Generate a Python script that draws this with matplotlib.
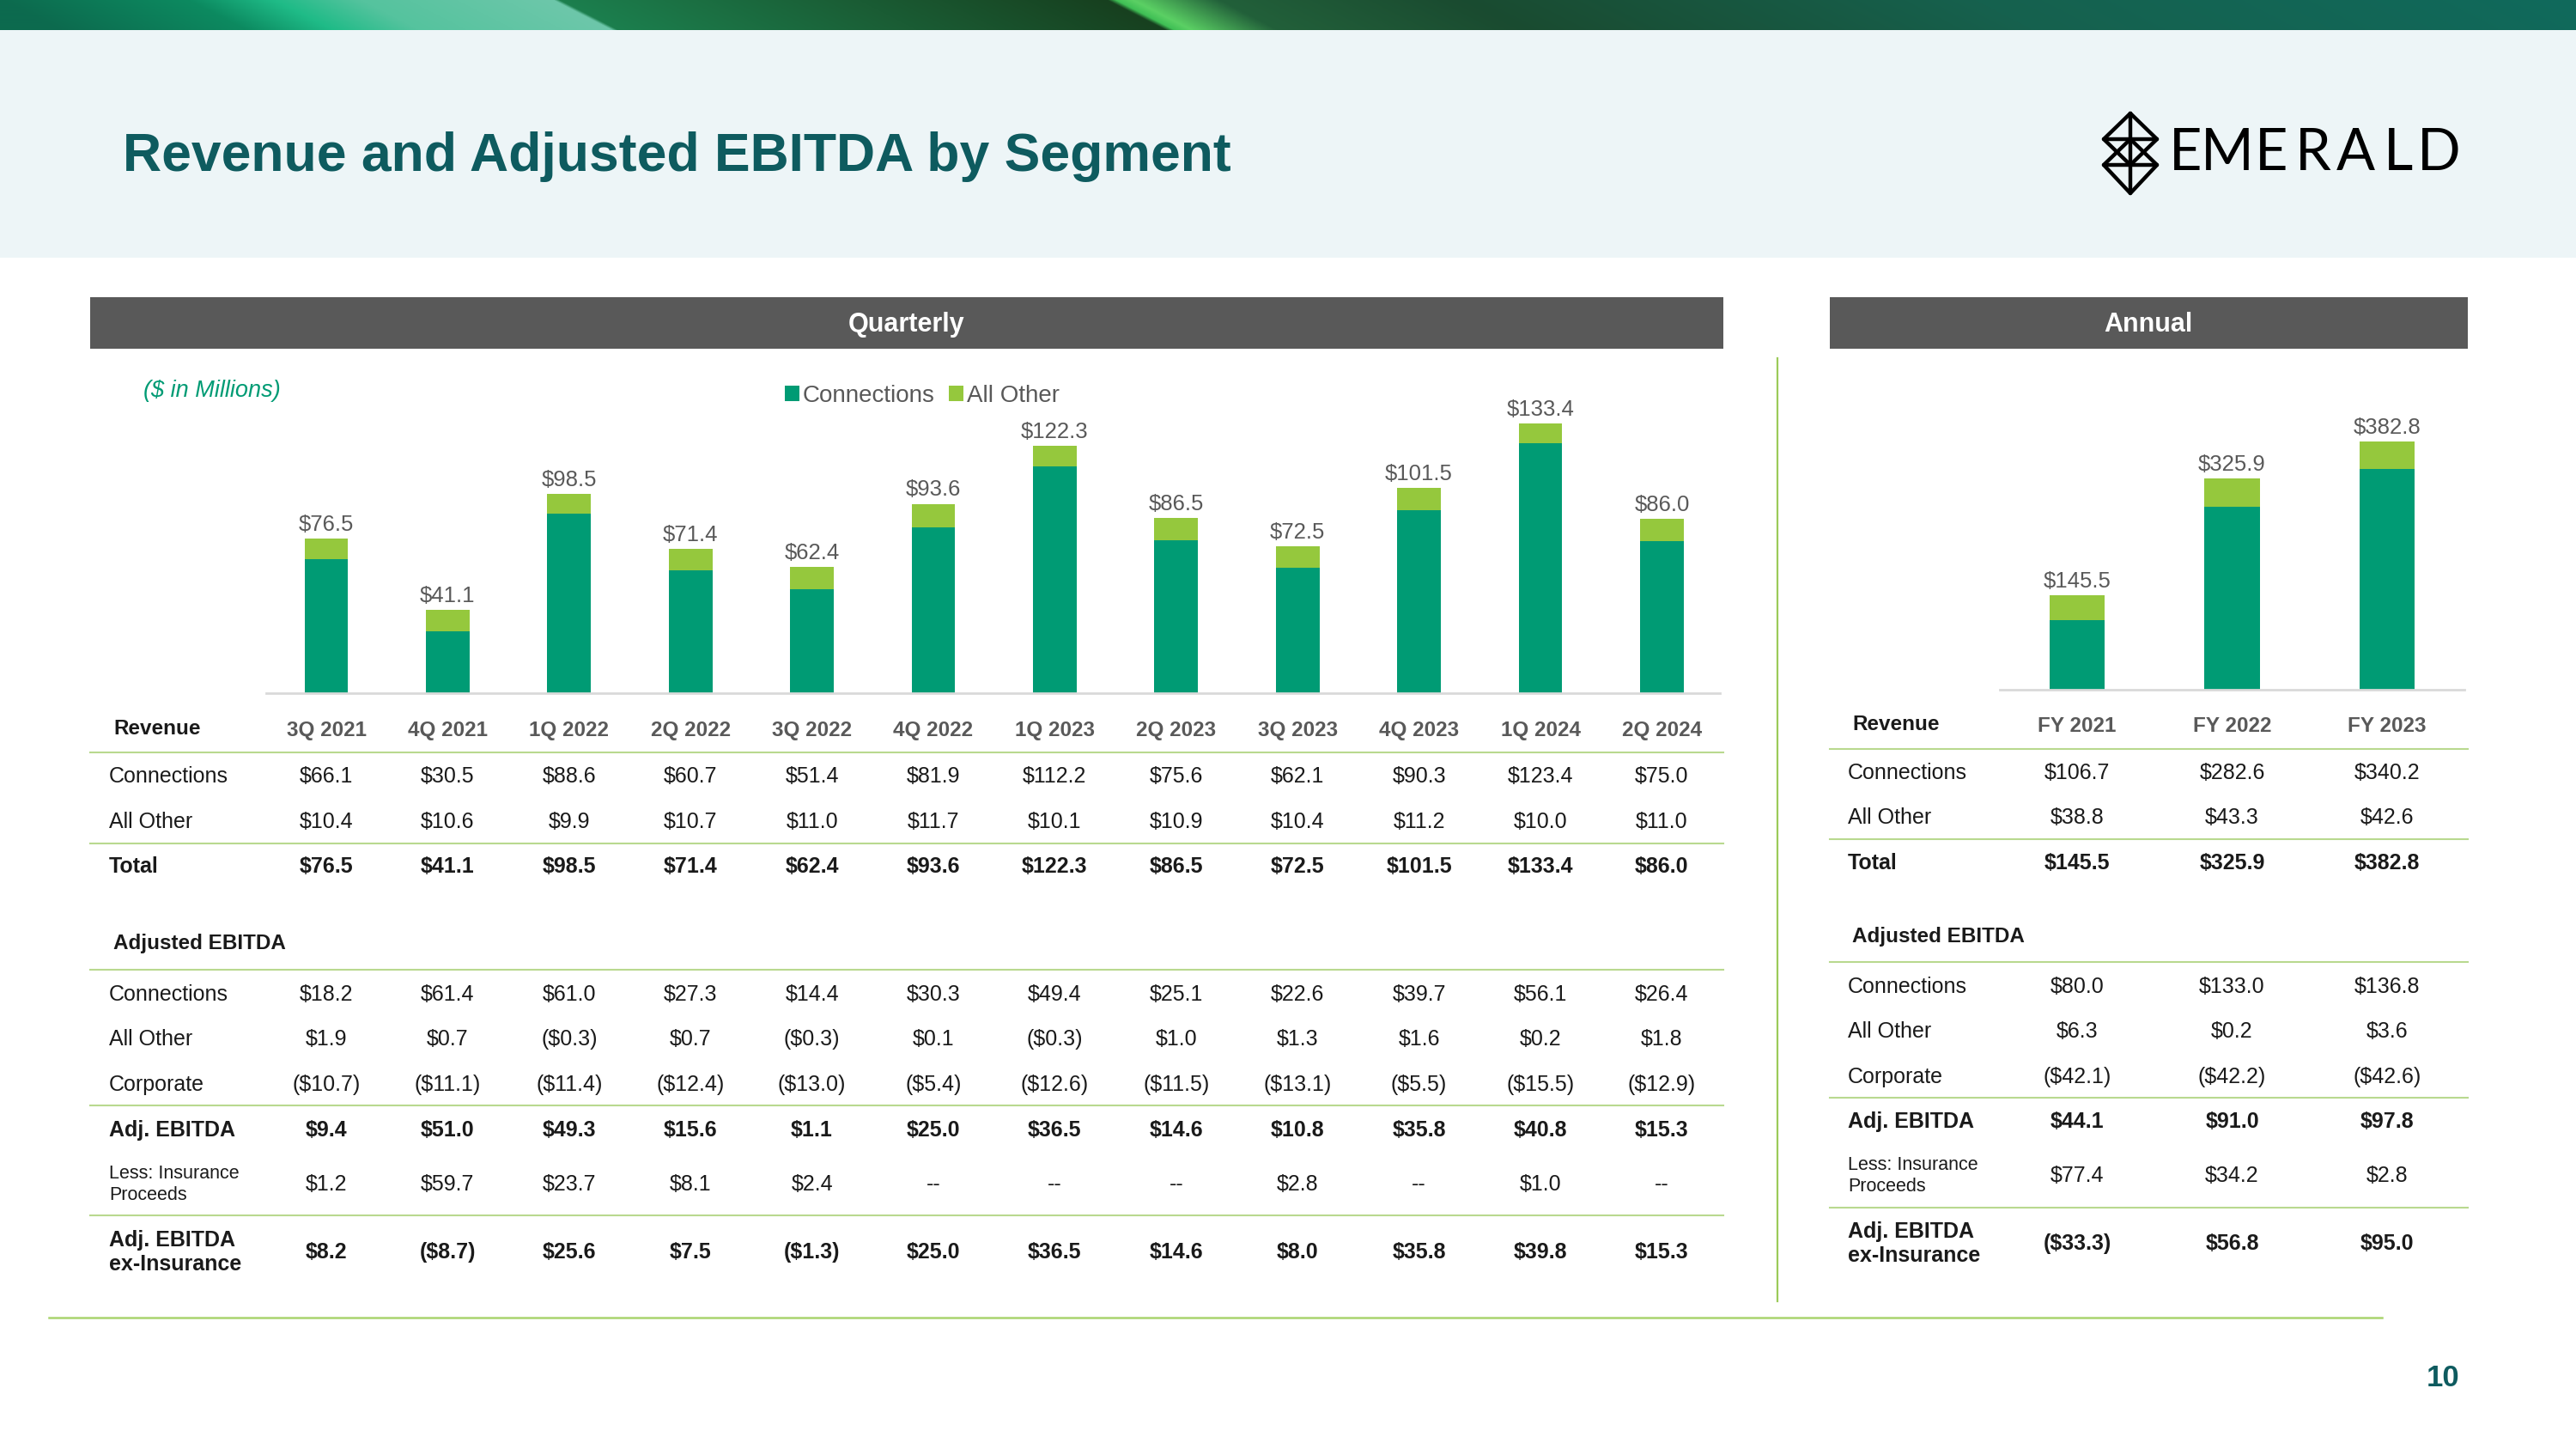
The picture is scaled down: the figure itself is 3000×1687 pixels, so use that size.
import numpy as np
import matplotlib.pyplot as plt
import matplotlib.transforms as mtransforms
from matplotlib.colors import to_rgb
from matplotlib.patches import Rectangle

plt.rcParams['font.family'] = ['Liberation Sans', 'DejaVu Sans']

# Quarterly data ($ in millions)
quarters = ['3Q 2021', '4Q 2021', '1Q 2022', '2Q 2022', '3Q 2022', '4Q 2022',
            '1Q 2023', '2Q 2023', '3Q 2023', '4Q 2023', '1Q 2024', '2Q 2024']
q_rev_conn = [66.1, 30.5, 88.6, 60.7, 51.4, 81.9, 112.2, 75.6, 62.1, 90.3, 123.4, 75.0]
q_rev_other = [10.4, 10.6, 9.9, 10.7, 11.0, 11.7, 10.1, 10.9, 10.4, 11.2, 10.0, 11.0]
q_rev_total = [76.5, 41.1, 98.5, 71.4, 62.4, 93.6, 122.3, 86.5, 72.5, 101.5, 133.4, 86.0]
q_eb_conn = [18.2, 61.4, 61.0, 27.3, 14.4, 30.3, 49.4, 25.1, 22.6, 39.7, 56.1, 26.4]
q_eb_other = [1.9, 0.7, -0.3, 0.7, -0.3, 0.1, -0.3, 1.0, 1.3, 1.6, 0.2, 1.8]
q_eb_corp = [-10.7, -11.1, -11.4, -12.4, -13.0, -5.4, -12.6, -11.5, -13.1, -5.5, -15.5, -12.9]
q_eb_adj = [9.4, 51.0, 49.3, 15.6, 1.1, 25.0, 36.5, 14.6, 10.8, 35.8, 40.8, 15.3]
q_insurance = [1.2, 59.7, 23.7, 8.1, 2.4, None, None, None, 2.8, None, 1.0, None]
q_eb_ex_ins = [8.2, -8.7, 25.6, 7.5, -1.3, 25.0, 36.5, 14.6, 8.0, 35.8, 39.8, 15.3]

# Annual data ($ in millions)
years = ['FY 2021', 'FY 2022', 'FY 2023']
a_rev_conn = [106.7, 282.6, 340.2]
a_rev_other = [38.8, 43.3, 42.6]
a_rev_total = [145.5, 325.9, 382.8]
a_eb_conn = [80.0, 133.0, 136.8]
a_eb_other = [6.3, 0.2, 3.6]
a_eb_corp = [-42.1, -42.2, -42.6]
a_eb_adj = [44.1, 91.0, 97.8]
a_insurance = [77.4, 34.2, 2.8]
a_eb_ex_ins = [-33.3, 56.8, 95.0]

GREEN = '#009B74'
LIME = '#95C83D'
GRAY = '#595959'
TEAL = '#0E5B5F'
LINE = '#B9D98F'
TXT = '#1A1A1A'


def fmt(v):
    if v is None:
        return '--'
    if v < 0:
        return '(${:.1f})'.format(-v)
    return '${:.1f}'.format(v)


W, H = 3000, 1687
fig = plt.figure(figsize=(W / 100, H / 100), dpi=100)
fig.patch.set_facecolor('white')

bg = fig.add_axes([0, 0, 1, 1], zorder=0)
bg.axis('off')

# banner gradient
stops = [(0, '#0C6A4E'), (220, '#0C8A60'), (320, '#1FBB87'), (420, '#55C39E'),
         (645, '#6DC7AA'), (652, '#1C7F4E'), (1000, '#1A5C34'), (1290, '#17401F'),
         (1300, '#3FBF55'), (1320, '#5BD064'), (1420, '#22603A'), (1700, '#1A4B30'),
         (2300, '#16614E'), (3000, '#106A5C')]
X, Y = np.meshgrid(np.arange(W), np.arange(36))
U = X - 1.9 * Y
img = np.zeros((36, W, 3))
for c in range(3):
    img[..., c] = np.interp(U, [s[0] for s in stops], [to_rgb(s[1])[c] for s in stops])
bg.imshow(img, extent=(0, W, 35, 0), aspect='auto', interpolation='bilinear')
bg.add_patch(Rectangle((0, 35), W, 265, color='#EDF5F7', lw=0))
bg.set_xlim(0, W)
bg.set_ylim(H, 0)

bg.text(143, 182, 'Revenue and Adjusted EBITDA by Segment', fontsize=45,
        fontweight='bold', color=TEAL, va='center', ha='left')

# logo
lk = dict(color='black', lw=3.2, solid_capstyle='round')
xl, xc, xr = 2450, 2481, 2512
bg.plot([xc, xl, xc, xr, xc], [132, 162, 192, 162, 132], **lk)
bg.plot([xc, xl, xc, xr, xc], [162, 192, 225, 192, 162], **lk)
bg.plot([xl, xr], [162, 162], **lk)
bg.plot([xl, xr], [192, 192], **lk)
bg.plot([xc, xc], [132, 225], **lk)
for ch, lx in zip('EMERALD', [2545, 2594, 2645, 2694, 2743, 2793, 2840]):
    bg.text(lx, 179, ch, fontsize=48, family=['Lato', 'DejaVu Sans'], fontweight='normal',
            color='black', ha='center', va='center')

# section headers
bg.add_patch(Rectangle((105, 346), 1902, 60, color=GRAY, lw=0))
bg.text(1056, 378, 'Quarterly', fontsize=22, fontweight='bold', color='white', ha='center', va='center')
bg.add_patch(Rectangle((2131, 346), 743, 60, color=GRAY, lw=0))
bg.text(2502, 378, 'Annual', fontsize=22, fontweight='bold', color='white', ha='center', va='center')

bg.text(167, 455, '($ in Millions)', fontsize=19.5, style='italic', color=GREEN, va='center')

# dividers
bg.plot([2070, 2070], [417, 1515], color='#9CCB5A', lw=1.6)
bg.plot([57, 2774], [1534, 1534], color='#A9D46F', lw=1.8)
bg.text(2845, 1604, '10', fontsize=25, fontweight='bold', color=TEAL, ha='center', va='center')


def bar_panel(x0, x1, ytop, ybase, centre0, step, scale, cats, conn, other, totals):
    ax = fig.add_axes([x0 / W, 1 - ybase / H, (x1 - x0) / W, (ybase - ytop) / H], zorder=1)
    ax.patch.set_alpha(0)
    x = np.arange(len(cats))
    b1 = ax.bar(x, conn, 0.36, color=GREEN, label='Connections')
    b2 = ax.bar(x, other, 0.36, bottom=conn, color=LIME, label='All Other')
    ax.bar_label(b2, labels=[fmt(v) for v in totals], padding=3, fontsize=18.5, color=GRAY)
    ax.set_xlim((x0 - centre0) / step, (x1 - centre0) / step)
    ax.set_ylim(0, (ybase - ytop) / scale)
    for s in ['top', 'left', 'right']:
        ax.spines[s].set_visible(False)
    ax.spines['bottom'].set_color('#D9D9D9')
    ax.spines['bottom'].set_linewidth(2)
    ax.set_xticks([])
    ax.set_yticks([])
    return ax, b1, b2


axq, qb1, qb2 = bar_panel(310, 2003, 440, 807, 380, 141.4, 2.355, quarters,
                          q_rev_conn, q_rev_other, q_rev_total)
axa, _, _ = bar_panel(2329, 2870, 440, 803, 2419, 180.5, 0.755, years,
                      a_rev_conn, a_rev_other, a_rev_total)

fig.legend([qb1, qb2], ['Connections', 'All Other'], loc='center left',
           bbox_to_anchor=(914 / W, 1 - 461 / H), ncol=2, frameon=False, fontsize=20,
           handlelength=0.6, handleheight=0.6, handletextpad=0.15, columnspacing=0.6,
           borderpad=0, borderaxespad=0, labelcolor=GRAY)


def table(ax, cats, label_x, line_x0, line_x1, head_y, ebitda_y, line_ys, rows):
    tr = mtransforms.blended_transform_factory(ax.transData, bg.transData)
    bg.text(label_x + 5, head_y, 'Revenue', fontsize=17.5, fontweight='bold', color=TXT, va='center')
    for i, c in enumerate(cats):
        bg.text(i, head_y + 2, c, transform=tr, fontsize=17.5, fontweight='bold',
                color=GRAY, ha='center', va='center')
    bg.text(label_x + 5, ebitda_y, 'Adjusted EBITDA', fontsize=17.5, fontweight='bold',
            color=TXT, va='center')
    for ly in line_ys:
        bg.plot([line_x0, line_x1], [ly, ly], color=LINE, lw=1.5)
    for label, vals, bold, y in rows:
        fs = 15.5 if label.startswith('Less') else 18
        bg.text(label_x, y, label, fontsize=fs, fontweight='bold' if bold else 'normal',
                color=TXT, va='center', linespacing=1.2)
        for i, v in enumerate(vals):
            bg.text(i, y, fmt(v), transform=tr, fontsize=18,
                    fontweight='bold' if bold else 'normal', color=TXT, ha='center', va='center')


table(axq, quarters, 127, 105, 2007, 848, 1098, [876, 982, 1129, 1287, 1415], [
    ('Connections', q_rev_conn, False, 904),
    ('All Other', q_rev_other, False, 957),
    ('Total', q_rev_total, True, 1009),
    ('Connections', q_eb_conn, False, 1158),
    ('All Other', q_eb_other, False, 1210),
    ('Corporate', q_eb_corp, False, 1263),
    ('Adj. EBITDA', q_eb_adj, True, 1316),
    ('Less: Insurance\nProceeds', q_insurance, False, 1379),
    ('Adj. EBITDA\nex-Insurance', q_eb_ex_ins, True, 1458),
])

table(axa, years, 2152, 2131, 2874, 843, 1090, [872, 977, 1120, 1278, 1406], [
    ('Connections', a_rev_conn, False, 900),
    ('All Other', a_rev_other, False, 952),
    ('Total', a_rev_total, True, 1005),
    ('Connections', a_eb_conn, False, 1149),
    ('All Other', a_eb_other, False, 1201),
    ('Corporate', a_eb_corp, False, 1254),
    ('Adj. EBITDA', a_eb_adj, True, 1306),
    ('Less: Insurance\nProceeds', a_insurance, False, 1369),
    ('Adj. EBITDA\nex-Insurance', a_eb_ex_ins, True, 1448),
])

fig.savefig('out.png', dpi=100)
